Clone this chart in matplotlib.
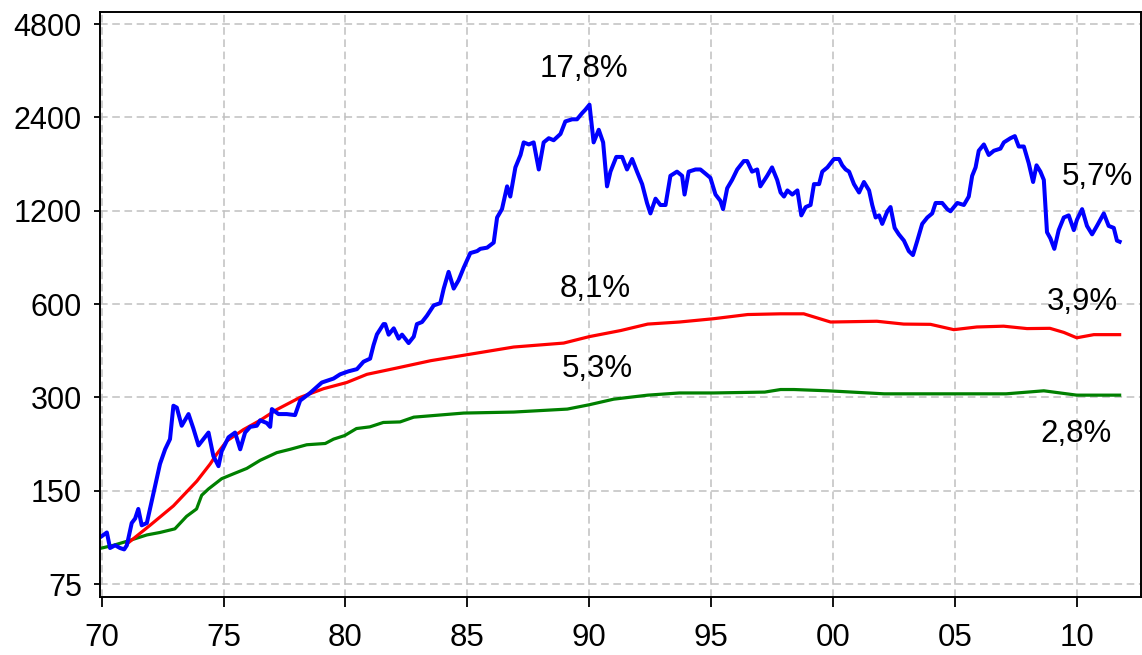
import numpy as np
import matplotlib
matplotlib.use('Agg')
import matplotlib.pyplot as plt
from matplotlib.ticker import FixedLocator, FixedFormatter, NullLocator

plt.rcParams['font.family'] = ['Liberation Sans', 'DejaVu Sans']

# Blue series (index, log scale)
blue_years = [1970.00, 1970.21, 1970.34, 1970.55, 1970.75, 1970.92, 1971.03, 1971.23, 1971.37, 1971.50,
              1971.64, 1971.85, 1972.12, 1972.39, 1972.60, 1972.80, 1972.94, 1973.08, 1973.28, 1973.56,
              1973.76, 1973.97, 1974.17, 1974.38, 1974.58, 1974.79, 1974.92, 1975.20, 1975.47, 1975.68,
              1975.88, 1976.09, 1976.36, 1976.50, 1976.77, 1976.91, 1976.98, 1977.25, 1977.59, 1977.93,
              1978.14, 1978.55, 1979.03, 1979.51, 1979.78, 1980.12, 1980.47, 1980.74, 1981.01, 1981.15,
              1981.29, 1981.56, 1981.63, 1981.77, 1981.98, 1982.18, 1982.32, 1982.59, 1982.80, 1982.93,
              1983.14, 1983.34, 1983.62, 1983.89, 1984.03, 1984.23, 1984.44, 1984.64, 1984.85, 1985.12,
              1985.40, 1985.53, 1985.81, 1986.08, 1986.22, 1986.42, 1986.63, 1986.76, 1986.97, 1987.18,
              1987.31, 1987.52, 1987.72, 1987.93, 1988.13, 1988.34, 1988.54, 1988.82, 1989.02, 1989.30,
              1989.50, 1989.71, 1989.84, 1990.01, 1990.18, 1990.39, 1990.57, 1990.73, 1990.87, 1991.11,
              1991.35, 1991.55, 1991.76, 1991.96, 1992.17, 1992.37, 1992.51, 1992.72, 1992.92, 1993.13,
              1993.33, 1993.60, 1993.81, 1993.91, 1994.08, 1994.36, 1994.56, 1994.77, 1994.97, 1995.18,
              1995.38, 1995.49, 1995.66, 1995.86, 1996.07, 1996.34, 1996.48, 1996.68, 1996.89, 1997.02,
              1997.30, 1997.50, 1997.71, 1997.85, 1997.99, 1998.13, 1998.33, 1998.54, 1998.70, 1998.88,
              1999.08, 1999.22, 1999.43, 1999.56, 1999.77, 2000.04, 2000.25, 2000.38, 2000.52, 2000.66,
              2000.86, 2001.07, 2001.27, 2001.48, 2001.61, 2001.75, 2001.89, 2002.02, 2002.23, 2002.36,
              2002.53, 2002.70, 2002.91, 2003.11, 2003.28, 2003.46, 2003.66, 2003.87, 2004.07, 2004.21,
              2004.48, 2004.69, 2004.82, 2005.10, 2005.37, 2005.57, 2005.71, 2005.85, 2005.98, 2006.19,
              2006.39, 2006.60, 2006.87, 2007.01, 2007.28, 2007.46, 2007.62, 2007.83, 2008.03, 2008.21,
              2008.35, 2008.51, 2008.65, 2008.78, 2008.92, 2009.08, 2009.26, 2009.47, 2009.67, 2009.88,
              2010.01, 2010.22, 2010.42, 2010.63, 2010.83, 2011.11, 2011.31, 2011.52, 2011.65, 2011.76]
blue_vals = [107, 110, 98, 100, 98, 97, 100, 118, 122, 131,
             116, 118, 147, 183, 204, 220, 282, 278, 243, 265,
             238, 210, 220, 231, 194, 180, 201, 223, 231, 204,
             231, 241, 243, 253, 248, 241, 275, 265, 265, 263,
             293, 310, 335, 345, 356, 364, 370, 391, 400, 442,
             479, 517, 517, 478, 501, 464, 478, 449, 471, 517,
             525, 550, 594, 604, 673, 762, 673, 716, 786, 876,
             889, 904, 912, 947, 1141, 1214, 1438, 1333, 1655, 1815,
             1993, 1963, 1993, 1630, 1993, 2056, 2025, 2122, 2329, 2366,
             2366, 2478, 2540, 2637, 1993, 2189, 1993, 1438, 1604, 1789,
             1789, 1630, 1762, 1604, 1462, 1271, 1176, 1312, 1252, 1252,
             1555, 1604, 1555, 1353, 1604, 1630, 1630, 1580, 1532, 1353,
             1291, 1214, 1418, 1508, 1630, 1735, 1735, 1604, 1630, 1438,
             1555, 1655, 1508, 1374, 1333, 1395, 1353, 1395, 1159, 1233,
             1252, 1462, 1462, 1604, 1655, 1762, 1762, 1681, 1630, 1604,
             1462, 1374, 1485, 1395, 1252, 1141, 1159, 1088, 1195, 1233,
             1056, 1007, 961, 889, 863, 961, 1088, 1141, 1176, 1271,
             1271, 1214, 1195, 1271, 1252, 1333, 1555, 1655, 1873, 1963,
             1815, 1873, 1903, 1993, 2056, 2088, 1933, 1933, 1708, 1485,
             1681, 1604, 1508, 1023, 977, 904, 1039, 1141, 1159, 1039,
             1123, 1214, 1072, 1007, 1072, 1176, 1072, 1056, 961, 953]

# Red series
red_years = [1971.03, 1971.98, 1972.94, 1973.90, 1974.45, 1974.72, 1975.13, 1975.81, 1976.50, 1977.18,
             1978.14, 1979.10, 1980.05, 1980.88, 1982.10, 1983.50, 1985.00, 1986.90, 1988.95, 1990.00,
             1991.30, 1992.40, 1993.70, 1995.10, 1996.50, 1997.85, 1998.80, 1999.90, 2001.80, 2002.90,
             2004.00, 2004.96, 2005.90, 2007.00, 2007.96, 2008.90, 2009.47, 2010.00, 2010.70, 2011.76]
red_vals = [101, 116, 134, 161, 183, 197, 217, 236, 253, 274,
            300, 320, 335, 356, 373, 394, 412, 436, 449, 471,
            493, 517, 525, 538, 555, 558, 558, 525, 528, 517,
            516, 496, 506, 509, 500, 501, 486, 467, 478, 478]

# Green series
green_years = [1970.00, 1970.48, 1971.03, 1971.85, 1972.39, 1973.00, 1973.48, 1973.89, 1974.10, 1974.38,
               1974.92, 1975.40, 1975.95, 1976.50, 1977.18, 1977.73, 1978.41, 1979.17, 1979.51, 1979.97,
               1980.45, 1981.00, 1981.55, 1982.24, 1982.80, 1984.85, 1986.90, 1989.10, 1990.00, 1991.00,
               1992.40, 1993.70, 1995.10, 1997.20, 1997.85, 1998.40, 1999.80, 2002.10, 2004.96, 2007.10,
               2008.65, 2010.00, 2011.76]
green_vals = [98, 100, 103, 108, 110, 113, 124, 131, 145, 152,
              164, 170, 177, 188, 199, 204, 211, 213, 220, 226,
              238, 241, 249, 250, 259, 267, 269, 275, 284, 296,
              305, 310, 310, 312, 318, 318, 315, 308, 308, 308,
              315, 305, 305]

# Annotations (text, year, value)
label_texts = ['17,8%', '8,1%', '5,3%', '5,7%', '3,9%', '2,8%']
label_years = [1989.79, 1990.25, 1990.34, 2010.83, 2010.24, 2009.97]
label_vals = [3436, 671, 369, 1546, 609, 228]

y_ticks = [75, 150, 300, 600, 1200, 2400, 4800]
x_ticks = [1970, 1975, 1980, 1985, 1990, 1995, 2000, 2005, 2010]
x_labels = ['70', '75', '80', '85', '90', '95', '00', '05', '10']

fig = plt.figure(figsize=(11.42, 6.55), dpi=100)
ax = fig.add_axes([0.0876, 0.0885, 0.9116, 0.8931])

ax.plot(green_years, green_vals, color='#008000', linewidth=2.3)
ax.plot(red_years, red_vals, color='#ff0000', linewidth=2.3)
ax.plot(blue_years, blue_vals, color='#0000ff', linewidth=2.9)

for t, xx, yy in zip(label_texts, label_years, label_vals):
    ax.text(xx, yy, t, ha='center', va='center', fontsize=22.5, color='black')

ax.set_yscale('log', base=2)
ax.set_ylim(68.1, 5247)
ax.set_xlim(1969.93, 2012.64)

ax.yaxis.set_major_locator(FixedLocator(y_ticks))
ax.yaxis.set_major_formatter(FixedFormatter([str(v) for v in y_ticks]))
ax.yaxis.set_minor_locator(NullLocator())
ax.xaxis.set_major_locator(FixedLocator(x_ticks))
ax.xaxis.set_major_formatter(FixedFormatter(x_labels))

ax.tick_params(axis='y', direction='out', length=4, width=1.3, pad=9, labelsize=22)
ax.tick_params(axis='x', direction='out', length=7, width=1.3, pad=12, labelsize=22.5)

ax.grid(True, color='#c0c0c0', linestyle=(0, (5, 3)), linewidth=1.1)
ax.set_axisbelow(True)
for s in ax.spines.values():
    s.set_linewidth(1.4)
    s.set_color('black')

fig.savefig('out.png', dpi=100)
